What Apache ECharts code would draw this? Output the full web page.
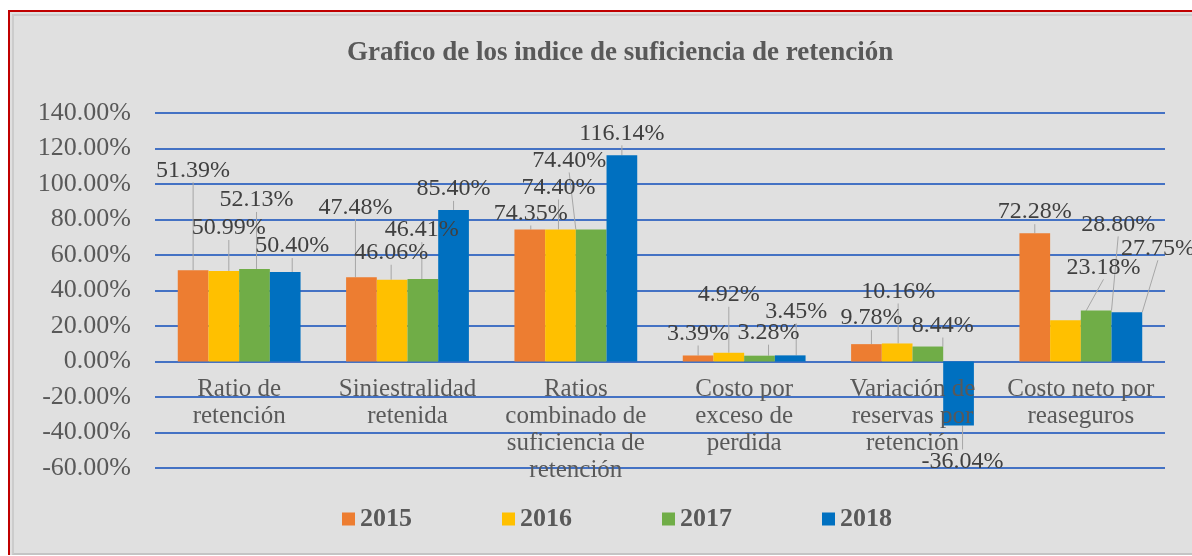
<!DOCTYPE html>
<html>
<head>
<meta charset="utf-8">
<script src="https://cdn.jsdelivr.net/npm/echarts@6.0.0/dist/echarts.min.js"></script>
<style>
    html, body { margin: 0; padding: 0; background: #ffffff; }
    #frame {
        position: absolute; left: 8px; top: 10px; width: 1200px; height: 543px;
        border-top: 2px solid #c00000; border-left: 2px solid #c00000;
        background: #e0e0e0;
    }
    #inner {
        position: absolute; left: 2px; top: 2px; right: 0; bottom: 0;
        border-top: 2px solid #cccccc; border-left: 2px solid #cccccc; border-bottom: 2px solid #c4c4c4;
    }
    #chart { position: absolute; left: 0; top: 0; width: 1192px; height: 556px; }
</style>
</head>
<body>
<div id="frame"><div id="inner"></div></div>
<div id="chart"></div>
<script>
const categories = [
    "Ratio de\nretención",
    "Siniestralidad\nretenida",
    "Ratios\ncombinado de\nsuficiencia de\nretención",
    "Costo por\nexceso de\nperdida",
    "Variación de\nreservas por\nretención",
    "Costo neto por\nreaseguros"
];
const years = ["2015", "2016", "2017", "2018"];
const v2015 = [51.39, 47.48, 74.35, 3.39, 9.78, 72.28];
const v2016 = [50.99, 46.06, 74.40, 4.92, 10.16, 23.18];
const v2017 = [52.13, 46.41, 74.40, 3.28, 8.44, 28.80];
const v2018 = [50.40, 85.40, 116.14, 3.45, -36.04, 27.75];
const colors = ["#ed7d31", "#ffc000", "#70ad47", "#0070c0"];

// where each data label sits, relative to the end of its bar (like Excel's dragged labels)
const labelShift = [
    [[0, -100], [-6, -70], [1, -16], [0, -22], [5, -26], [0, -21]],
    [[5, -43], [-1, -27], [-2, -42], [0, -58], [1, -52], [38, -53]],
    [[2, -69], [-1, -49], [-22, -69], [9, -23], [15, -21], [22, -86]],
    [[7, -26], [0, -21], [0, -22], [6, -44], [4, 36], [31, -64]]
];

const font = "'Liberation Serif', 'Times New Roman', serif";
const allValues = [v2015, v2016, v2017, v2018];

const series = allValues.map((vals, s) => ({
    name: years[s],
    type: "bar",
    data: vals,
    barWidth: 30.7,
    barGap: "0%",
    itemStyle: { color: colors[s] },
    label: {
        show: true,
        position: "top",
        fontFamily: font,
        fontSize: 24,
        color: "#404040",
        formatter: p => p.value.toFixed(2) + "%"
    },
    labelLine: { show: true, lineStyle: { color: "#a6a6a6", width: 1 } },
    labelLayout: function (p) {
        const off = labelShift[s][p.dataIndex];
        const r = p.rect;
        const end = vals[p.dataIndex] >= 0 ? r.y : r.y + r.height;
        return {
            x: r.x + r.width / 2 + off[0],
            y: end + off[1],
            align: "center",
            verticalAlign: "middle"
        };
    }
}));

const chart = echarts.init(document.querySelector("#chart"));
chart.setOption({
    animation: false,
    title: {
        text: "Grafico de los indice de suficiencia de retención",
        left: 342,
        top: 35,
        textStyle: { fontFamily: font, fontSize: 27, fontWeight: "bold", color: "#595959" }
    },
    legend: {
        data: years,
        left: 337,
        top: 501,
        icon: "rect",
        itemWidth: 13,
        itemHeight: 13,
        itemGap: 90,
        textStyle: { fontFamily: font, fontSize: 26, fontWeight: "bold", color: "#595959" }
    },
    grid: { left: 155, right: 27, top: 113, bottom: 88, containLabel: false, outerBoundsMode: "none" },
    xAxis: {
        type: "category",
        data: categories,
        z: 5,
        // category names sit right under the 0% line, as in Excel
        offset: -106,
        axisLine: { show: false, onZero: false },
        axisTick: { show: false },
        axisLabel: {
            interval: 0,
            margin: 14,
            fontFamily: font,
            fontSize: 25,
            lineHeight: 27,
            color: "#595959"
        }
    },
    yAxis: {
        type: "value",
        min: -60,
        max: 140,
        interval: 20,
        axisLine: { show: false },
        axisTick: { show: false },
        splitLine: { lineStyle: { color: "#4472c4", width: 2 } },
        axisLabel: {
            margin: 24,
            fontFamily: font,
            fontSize: 26,
            color: "#595959",
            formatter: v => v.toFixed(2) + "%"
        }
    },
    series: series
});
</script>
</body>
</html>
